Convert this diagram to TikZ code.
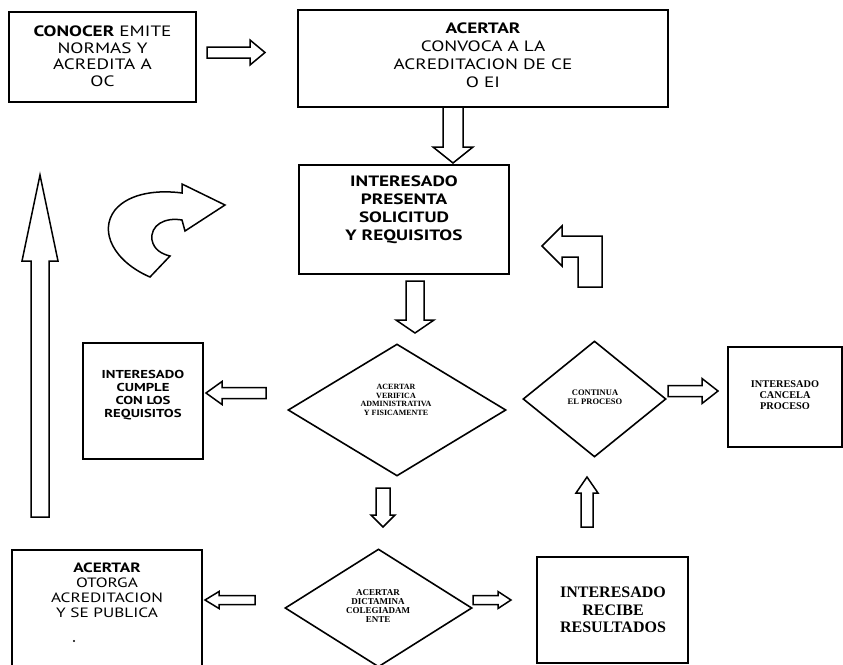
\documentclass[tikz,border=0pt]{standalone}
\usepackage{fontspec}
\setmainfont{Liberation Serif}
\newfontfamily\opt[FakeStretch=1.28]{PT Sans}
\usetikzlibrary{shapes.geometric}
\tikzset{
  outl/.style={draw=black, line width=1.6pt, fill=white},
  box/.style={outl, rectangle, inner sep=0pt},
  dia/.style={outl, diamond, inner sep=0pt},
  txt/.style={align=center, inner sep=0pt},
  blk/.style={draw=black, line width=1.5pt, fill=white, line join=miter},
}
\newcommand\barrow[6]{\begin{scope}[shift={(#1)},rotate=#2]
  \draw[blk] (0,-#4) -- ({#3-#6},-#4) -- ({#3-#6},-#5) -- (#3,0) -- ({#3-#6},#5) -- ({#3-#6},#4) -- (0,#4) -- cycle;
\end{scope}}
\begin{document}
\begin{tikzpicture}[x=1pt,y=-1pt]
\useasboundingbox (0,0) rectangle (843,664);
\fill[white] (0,0) rectangle (843,664);

% boxes
\node[box, minimum width=187pt, minimum height=90pt] (b1) at (102.5,57) {};
\node[box, minimum width=370pt, minimum height=97pt] (b2) at (483,58.5) {};
\node[box, minimum width=210pt, minimum height=109pt] (b3) at (404,219.5) {};
\node[box, minimum width=120pt, minimum height=116pt] (b4) at (143,401) {};
\node[dia, minimum width=218pt, minimum height=132pt] (d1) at (397,410) {};
\node[dia, minimum width=143pt, minimum height=116pt] (d2) at (594.5,399) {};
\node[box, minimum width=114pt, minimum height=100pt] (b5) at (785,397) {};
\node[box, minimum width=190pt, minimum height=140pt] (b6) at (107,620) {};
\node[dia, minimum width=187pt, minimum height=118pt] (d3) at (378.5,608) {};
\node[box, minimum width=151pt, minimum height=106pt] (b7) at (612.5,610) {};

% texts
\node[txt, font=\opt\fontsize{15}{16.5}\selectfont] (t1) at (102.5,56)
  {\textbf{CONOCER} EMITE\\NORMAS Y\\ACREDITA A\\OC};
\node[txt, font=\opt\fontsize{15}{18}\selectfont] (t2) at (483,55)
  {\textbf{ACERTAR}\\CONVOCA A LA\\ACREDITACION DE CE\\O EI};
\node[txt, font=\opt\bfseries\fontsize{15}{18}\selectfont] (t3) at (404,210)
  {INTERESADO\\PRESENTA\\SOLICITUD\\Y REQUISITOS};
\node[txt, font=\opt\bfseries\fontsize{11.5}{13}\selectfont] (t4) at (143,395)
  {INTERESADO\\CUMPLE\\CON LOS\\REQUISITOS};
\node[txt, font=\bfseries\fontsize{8}{8.6}\selectfont] (t5) at (396,400)
  {ACERTAR\\VERIFICA\\ADMINISTRATIVA\\Y FISICAMENTE};
\node[txt, font=\bfseries\fontsize{8.5}{9.5}\selectfont] (t6) at (595,397)
  {CONTINUA\\EL PROCESO};
\node[txt, font=\bfseries\fontsize{10.3}{11}\selectfont] (t7) at (785,395)
  {INTERESADO\\CANCELA\\PROCESO};
\node[txt, font=\opt\fontsize{13.5}{15}\selectfont] (t8) at (107,590)
  {\textbf{ACERTAR}\\OTORGA\\ACREDITACION\\Y SE PUBLICA};
\node[txt, font=\bfseries\fontsize{9}{9}\selectfont] (t9) at (378,606.5)
  {ACERTAR\\DICTAMINA\\COLEGIADAM\\ENTE};
\node[txt, font=\bfseries\fontsize{16}{17.5}\selectfont] (t10) at (613,610)
  {INTERESADO\\RECIBE\\RESULTADOS};
\fill (74,641) circle (1.2pt);

% block arrows
\barrow{207,52.5}{0}{58}{5.5}{12.5}{15}
\barrow{453,107}{-90}{56}{10}{20}{16}
\barrow{415,281}{-90}{52}{9}{19}{13}
\barrow{266,393}{180}{60}{5.5}{11.5}{16}
\barrow{668,391}{0}{50}{5.5}{12.5}{16}
\barrow{383,488}{-90}{39}{7}{12}{12}
\barrow{587,527}{90}{50}{6}{11}{16}
\barrow{255,600}{180}{50}{4.5}{8.5}{14}
\barrow{473,600}{0}{38}{4.5}{8.5}{13}
\barrow{40,517}{90}{342}{9}{18}{86}

% bent arrow (right side)
\draw[blk] (542,246) -- (562,226) -- (562,236) -- (602,236) -- (602,287)
  -- (578,287) -- (578,257) -- (562,257) -- (562,266) -- cycle;

% curved arrow (left)
\draw[blk] (150,277) .. controls (115,262) and (98,232) .. (115,210)
  .. controls (130,192) and (160,190) .. (182,193)
  -- (182,184) -- (225,205) -- (185,231) -- (182,220)
  .. controls (165,217) and (150,225) .. (152,240)
  .. controls (154,250) and (162,254) .. (170,256) -- cycle;
\end{tikzpicture}
\end{document}
